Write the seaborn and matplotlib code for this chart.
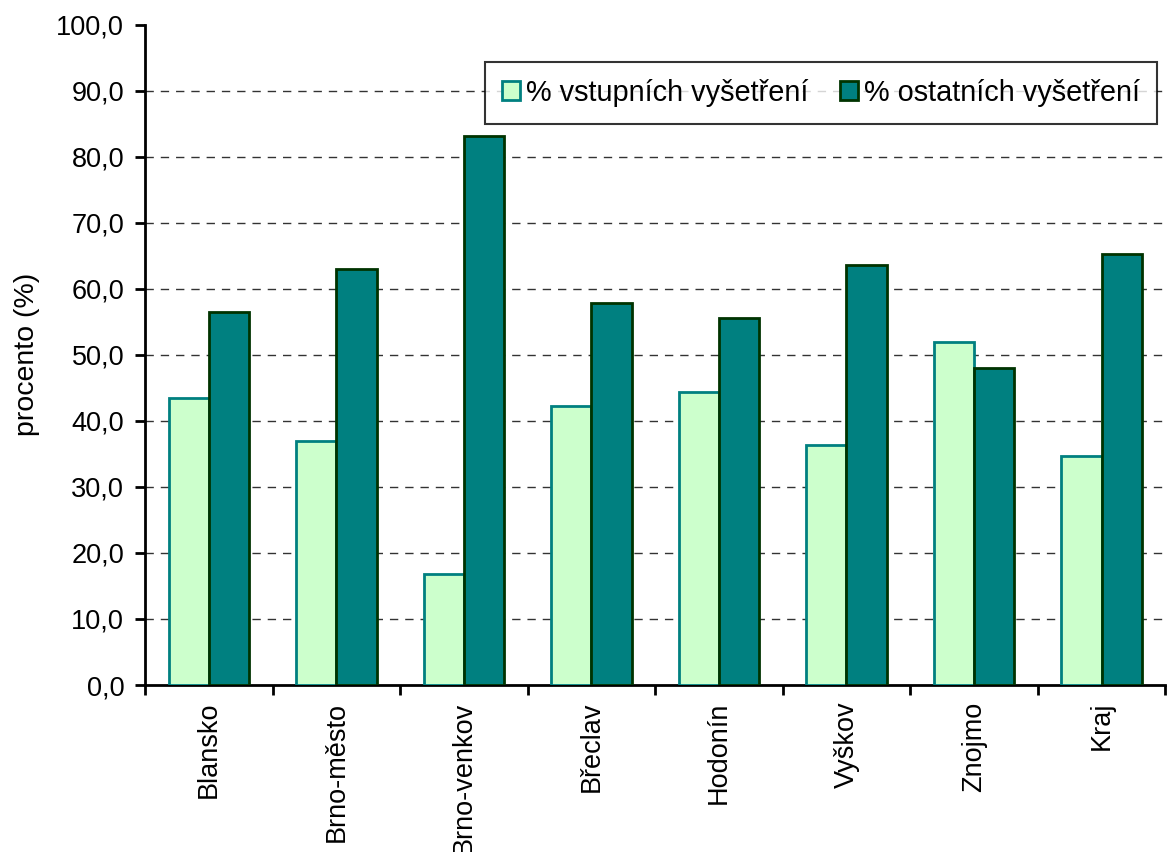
"""Bar chart: share of entry vs other examinations by district."""
import numpy as np
import pandas as pd
import matplotlib
matplotlib.use("Agg")
import matplotlib.pyplot as plt
from matplotlib.ticker import FuncFormatter, FixedLocator
import seaborn as sns

districts = ["Blansko", "Brno-město", "Brno-venkov", "Břeclav", "Hodonín",
             "Vyškov", "Znojmo", "Kraj"]
vstupni = [43.5, 37.0, 16.8, 42.2, 44.4, 36.4, 52.0, 34.7]
ostatni = [56.5, 63.0, 83.2, 57.8, 55.6, 63.6, 48.0, 65.3]
series = ["% vstupních vyšetření", "% ostatních vyšetření"]

df = pd.DataFrame({
    "okres": districts * 2,
    "hodnota": vstupni + ostatni,
    "serie": [series[0]] * len(districts) + [series[1]] * len(districts),
})

sns.set_theme(style="white")
plt.rcParams["font.family"] = ["Liberation Sans", "DejaVu Sans"]
plt.rcParams["text.color"] = "black"
plt.rcParams["xtick.color"] = "black"
plt.rcParams["ytick.color"] = "black"
plt.rcParams["axes.labelcolor"] = "black"

fig = plt.figure(figsize=(11.7, 8.52), dpi=100)
ax = fig.add_axes([0.124, 0.196, 0.872, 0.775])

fills = ["#CCFFCC", "#008080"]
edges = ["#008080", "#003300"]
sns.barplot(data=df, x="okres", y="hodnota", hue="serie", hue_order=series,
            palette=fills, saturation=1, width=0.63, ax=ax, legend=False, zorder=3)
for cont, ec in zip(ax.containers, edges):
    for p in cont:
        p.set_edgecolor(ec)
        p.set_linewidth(2)

ax.set_ylim(0, 100)
ax.set_xlim(-0.5, len(districts) - 0.5)
yt = np.arange(0, 101, 10)
ax.set_yticks(yt)
ax.yaxis.set_major_formatter(FuncFormatter(lambda v, _: f"{v:.1f}".replace(".", ",")))
for v in yt[1:-1]:
    ax.axhline(v, color="#333333", linestyle=(0, (6, 5)), linewidth=1, zorder=1)

ax.set_xticks(range(len(districts)))
ax.set_xticklabels(districts, rotation=90, va="top")
ax.xaxis.set_minor_locator(FixedLocator(np.arange(-0.5, len(districts), 1.0)))
ax.tick_params(axis="x", which="major", length=0, labelsize=19.5, pad=12)
ax.tick_params(axis="x", which="minor", bottom=True, length=7, width=2,
               color="black", direction="out")
ax.tick_params(axis="y", length=7, width=2, color="black", direction="out",
               labelsize=19.5, left=True, pad=8)

for s in ["top", "right"]:
    ax.spines[s].set_visible(False)
for s in ["left", "bottom"]:
    ax.spines[s].set_color("black")
    ax.spines[s].set_linewidth(2)

ax.set_xlabel("")
ax.set_ylabel("procento (%)", fontsize=20.5, labelpad=12)

leg = ax.legend(ax.containers, series, ncol=2, loc="upper right",
                bbox_to_anchor=(0.992, 0.944), borderaxespad=0, fontsize=20.8,
                frameon=True, fancybox=False, edgecolor="black",
                handlelength=0.62, handleheight=0.62, handletextpad=0.2,
                columnspacing=1.1, borderpad=0.6)
leg.get_frame().set_linewidth(1.5)

fig.savefig("out.png", dpi=100)
plt.close()
